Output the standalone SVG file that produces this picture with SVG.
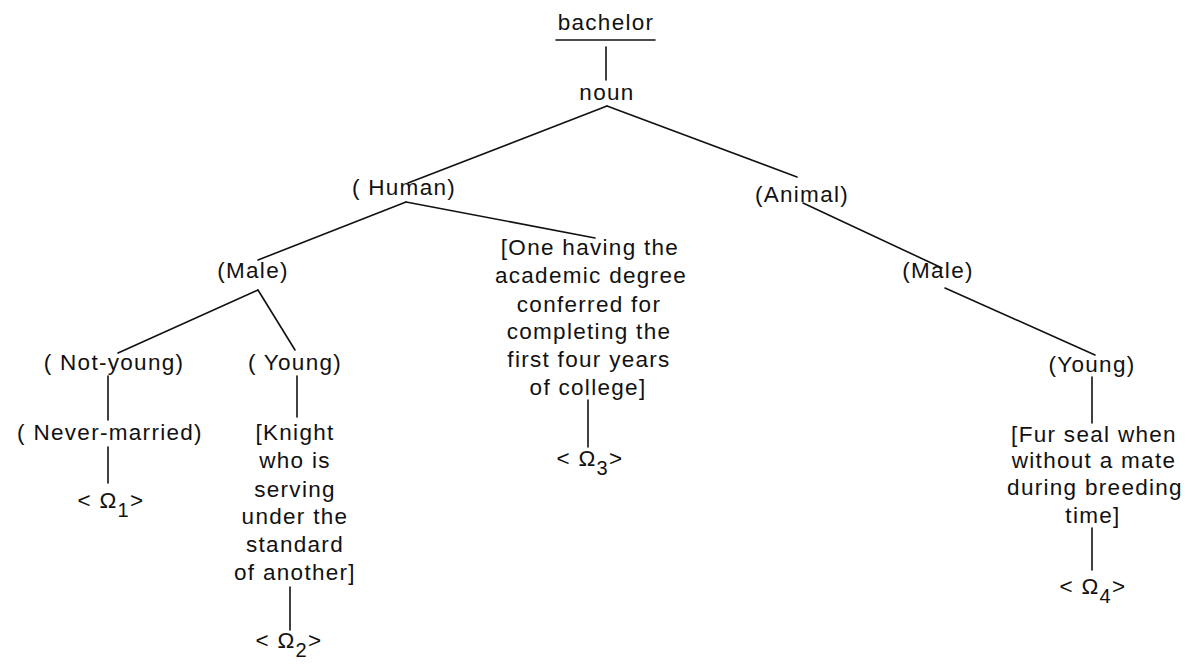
<svg xmlns="http://www.w3.org/2000/svg" width="1191" height="667" viewBox="0 0 1191 667">
<style>
text{font-family:"Liberation Sans",Arial,sans-serif;font-size:22.5px;fill:#111;text-anchor:middle;letter-spacing:1.3px}
.sub{font-size:20px}
line{stroke:#111;stroke-width:1.6;stroke-linecap:round}
</style>
<rect width="1191" height="667" fill="#fff"/>
<g id="connectors">
<line x1="556" y1="40" x2="655" y2="40" stroke-width="2"/>
<line x1="606" y1="47" x2="606" y2="80"/>
<line x1="607" y1="106" x2="408" y2="183"/>
<line x1="607" y1="106" x2="797" y2="177"/>
<line x1="406" y1="202" x2="258" y2="260"/>
<line x1="406" y1="202" x2="595" y2="238"/>
<line x1="258" y1="290" x2="118" y2="353"/>
<line x1="258" y1="290" x2="295" y2="350"/>
<line x1="108" y1="376" x2="108" y2="420"/>
<line x1="108" y1="447" x2="108" y2="483"/>
<line x1="297" y1="376" x2="297" y2="417"/>
<line x1="290" y1="587" x2="290" y2="630"/>
<line x1="588" y1="400" x2="588" y2="447"/>
<line x1="803" y1="203" x2="942" y2="268"/>
<line x1="945" y1="288" x2="1095" y2="355"/>
<line x1="1092" y1="377" x2="1092" y2="423"/>
<line x1="1092" y1="528" x2="1092" y2="570"/>
</g>
<g id="bachelor"><text x="606" y="30">bachelor</text></g>
<g id="noun"><text x="607" y="100">noun</text></g>
<g id="human"><text x="404" y="195">( Human)</text></g>
<g id="animal"><text x="802" y="202">(Animal)</text></g>
<g id="male-human"><text x="253" y="278">(Male)</text></g>
<g id="male-animal"><text x="938" y="278">(Male)</text></g>
<g id="not-young"><text x="114" y="370">( Not-young)</text></g>
<g id="young-human"><text x="295" y="370">( Young)</text></g>
<g id="never-married"><text x="110" y="440">( Never-married)</text></g>
<g id="omega1"><text x="111" y="508">&lt; Ω<tspan class="sub" dy="9">1</tspan><tspan dy="-9">&gt;</tspan></text></g>
<g id="knight">
<text x="295" y="440">[Knight</text>
<text x="295" y="468">who is</text>
<text x="295" y="497">serving</text>
<text x="295" y="524">under the</text>
<text x="295" y="552">standard</text>
<text x="295" y="580">of another]</text>
</g>
<g id="omega2"><text x="289" y="648">&lt; Ω<tspan class="sub" dy="9">2</tspan><tspan dy="-9">&gt;</tspan></text></g>
<g id="degree">
<text x="590" y="255">[One having the</text>
<text x="591" y="283">academic degree</text>
<text x="589" y="312">conferred for</text>
<text x="589" y="339">completing the</text>
<text x="589" y="367">first four years</text>
<text x="588" y="395">of college]</text>
</g>
<g id="omega3"><text x="590" y="466">&lt; Ω<tspan class="sub" dy="9">3</tspan><tspan dy="-9">&gt;</tspan></text></g>
<g id="young-animal"><text x="1092" y="372">(Young)</text></g>
<g id="fur-seal">
<text x="1094" y="442">[Fur seal when</text>
<text x="1094" y="468">without a mate</text>
<text x="1095" y="495">during breeding</text>
<text x="1093" y="523">time]</text>
</g>
<g id="omega4"><text x="1093" y="594">&lt; Ω<tspan class="sub" dy="9">4</tspan><tspan dy="-9">&gt;</tspan></text></g>
</svg>
